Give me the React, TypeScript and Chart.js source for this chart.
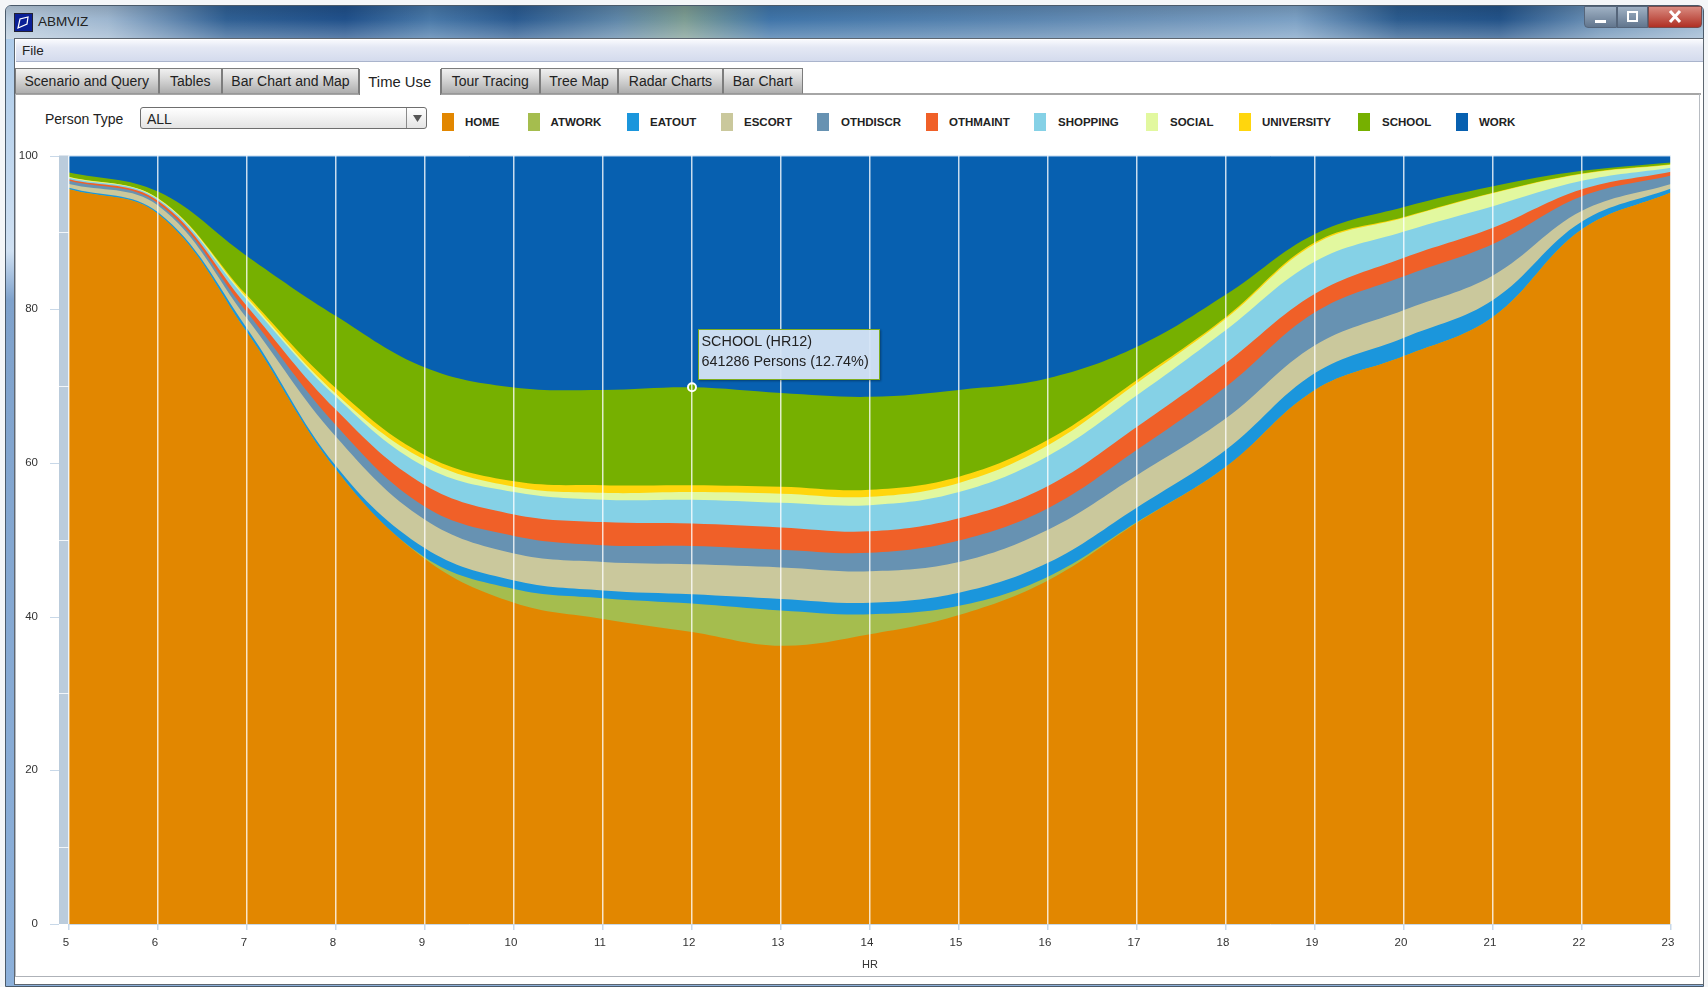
import React, { useEffect, useRef } from "react";
import { Chart, registerables } from "chart.js";

Chart.register(...registerables);

const hours = ["5","6","7","8","9","10","11","12","13","14","15","16","17","18","19","20","21","22","23"];
const HOME = [95.6,92.4,77.0,59.1,47.5,41.8,39.7,38.0,36.2,37.7,40.2,44.7,52.2,59.5,69.5,73.9,79.0,90.4,95.2];
const ATWORK = [0,0,0,0,0.2,1.8,2.7,3.7,4.6,2.6,1.2,0.5,0.1,0,0,0,0,0,0];
const EATOUT = [0.2,0.2,0.5,0.5,1.2,1.1,1.0,1.2,1.5,1.5,1.7,1.8,1.9,2.2,2.2,2.4,2.2,1.0,0.5];
const ESCORT = [0.5,0.9,1.3,3.8,3.7,3.5,3.7,3.9,4.1,4.1,4.0,4.3,4.2,4.1,3.6,3.6,3.2,1.4,0.6];
const OTHDISCR = [0.4,0.3,0.8,1.5,1.7,2.3,2.2,2.4,2.3,2.4,2.8,2.8,3.3,4.1,4.3,4.4,4.1,1.9,1.1];
const OTHMAINT = [0.2,0.3,0.8,2.0,2.8,2.8,3.0,2.9,2.9,2.8,2.9,2.9,3.0,3.1,2.4,2.4,2.1,0.9,0.5];
const SHOPPING = [0.2,0.2,0.8,1.7,2.4,2.9,2.9,3.1,3.2,3.4,3.4,3.9,4.1,4.3,4.2,3.4,2.8,1.1,0.5];
const SOCIAL = [0.1,0.1,0.3,0.4,0.9,0.7,0.9,1.0,1.2,1.1,1.2,1.4,1.6,1.5,2.3,1.8,1.7,0.9,0.4];
const UNIVERSITY = [0.05,0.05,0.3,0.7,0.6,0.7,1.0,0.9,0.9,0.9,0.8,0.7,0.4,0.2,0.2,0.1,0.05,0.05,0.05];
const SCHOOL = [0.55,0.85,5.1,9.4,11.4,12.2,12.4,12.74,12.2,12.1,11.3,8.0,4.3,2.9,1.1,1.3,0.85,0.35,0.25];
const WORK = [2.2,4.7,13.1,20.9,27.6,30.2,30.5,30.16,30.9,31.4,30.5,29.0,24.9,18.1,10.2,6.7,4.0,2.0,0.9];

const seriesNames = ["HOME","ATWORK","EATOUT","ESCORT","OTHDISCR","OTHMAINT","SHOPPING","SOCIAL","UNIVERSITY","SCHOOL","WORK"];
const seriesValues = [HOME,ATWORK,EATOUT,ESCORT,OTHDISCR,OTHMAINT,SHOPPING,SOCIAL,UNIVERSITY,SCHOOL,WORK];
const seriesColors = ["#e28700","#a5bd4e","#1b96dc","#cac89c","#6792b2","#f06028","#85d1e6","#e2f89f","#ffd60d","#76b000","#0760b0"];
const highlightIndex = 7;

const tabNames = ["Scenario and Query","Tables","Bar Chart and Map","Time Use","Tour Tracing","Tree Map","Radar Charts","Bar Chart"];
const tabEdges = [15,158.5,222,359,440.5,540,618,723,802.5];
const legendSwatchX = [442,527.5,626.5,721,817,926,1034,1146,1239,1358,1456];
const legendTextX = [465,550.5,650,744,841,949,1058,1170,1262,1382,1479];
const FONT = '"Liberation Sans", Arial, sans-serif';

const bandPlugin = {
  id: "yBand",
  beforeDatasetsDraw(chart: any) {
    const { ctx, chartArea, scales } = chart;
    ctx.save();
    ctx.fillStyle = "#bbccdc";
    ctx.fillRect(59, chartArea.top, 10, chartArea.bottom - chartArea.top);
    ctx.lineWidth = 1;
    scales.y.ticks.forEach((t: any) => {
      const y = Math.round(scales.y.getPixelForValue(t.value)) + 0.5;
      ctx.beginPath();
      if (t.value % 20 === 0) {
        ctx.strokeStyle = "#c8d8e8";
        ctx.moveTo(50, y);
        ctx.lineTo(59, y);
      } else {
        ctx.strokeStyle = "#f2f6fa";
        ctx.moveTo(59, y);
        ctx.lineTo(69, y);
      }
      ctx.stroke();
    });
    ctx.restore();
  },
  afterDatasetsDraw(chart: any) {
    const { ctx, chartArea } = chart;
    ctx.save();
    ctx.strokeStyle = "#c8d8e8";
    ctx.lineWidth = 1;
    ctx.beginPath();
    ctx.moveTo(chartArea.left, Math.round(chartArea.bottom) + 0.5);
    ctx.lineTo(chartArea.right, Math.round(chartArea.bottom) + 0.5);
    ctx.stroke();
    ctx.strokeStyle = "rgba(120,170,220,0.8)";
    ctx.beginPath();
    ctx.moveTo(chartArea.left, Math.round(chartArea.top) + 0.5);
    ctx.lineTo(chartArea.right, Math.round(chartArea.top) + 0.5);
    ctx.stroke();
    ctx.restore();
  },
};

function Box(p: { l: number; t: number; w: number; h: number; s?: React.CSSProperties; children?: React.ReactNode }) {
  return (
    <div style={{ position: "absolute", left: p.l, top: p.t, width: p.w, height: p.h, boxSizing: "border-box", ...p.s }}>
      {p.children}
    </div>
  );
}

function Label(p: { x: number; cy: number; size: number; bold?: boolean; color?: string; children: React.ReactNode }) {
  return (
    <div style={{ position: "absolute", left: p.x, top: p.cy - 10, height: 20, lineHeight: "20px", fontFamily: FONT, fontSize: p.size, fontWeight: p.bold ? 700 : 400, color: p.color || "#222", whiteSpace: "nowrap" }}>
      {p.children}
    </div>
  );
}

export default function App() {
  const ref = useRef<HTMLCanvasElement | null>(null);
  useEffect(() => {
    document.body.style.margin = "0";
    const chart = new Chart(ref.current as HTMLCanvasElement, {
      type: "line",
      plugins: [bandPlugin],
      data: {
        labels: hours,
        datasets: seriesNames.map((name, i) => ({
          label: name,
          data: seriesValues[i],
          backgroundColor: seriesColors[i],
          borderColor: seriesColors[i],
          borderWidth: 0,
          fill: "origin",
          tension: 0.38,
          pointRadius: (c: any) => (name === "SCHOOL" && c.dataIndex === highlightIndex ? 4 : 0),
          pointBackgroundColor: seriesColors[i],
          pointBorderColor: "#ffffff",
          pointBorderWidth: 2,
        })),
      },
      options: {
        animation: false,
        responsive: false,
        maintainAspectRatio: false,
        layout: { padding: { left: 0, right: 37, top: 15.5, bottom: 15 } },
        plugins: { legend: { display: false }, tooltip: { enabled: false } },
        scales: {
          x: {
            type: "category",
            offset: false,
            afterFit: (s: any) => { s.height = 48; s.paddingLeft = 0; s.paddingRight = 0; },
            grid: { color: "rgba(255,255,255,0.78)", lineWidth: 1.5, z: 1, tickColor: "#c8d8e8", tickLength: 6 },
            border: { display: false },
            ticks: { color: "#333", font: { family: FONT, size: 11.5 }, maxRotation: 0, autoSkip: false, labelOffset: -3, padding: 6 },
            title: { display: true, text: "HR", color: "#333", font: { family: FONT, size: 11 }, padding: { top: 5, bottom: 0 } },
          },
          y: {
            stacked: true,
            min: 0,
            max: 100,
            afterFit: (s: any) => { s.width = 69; s.paddingTop = 0; s.paddingBottom = 0; },
            grid: { display: false, drawTicks: false },
            border: { display: false },
            ticks: {
              stepSize: 10,
              color: "#333",
              font: { family: FONT, size: 11.5 },
              padding: 31,
              callback: (v: any) => (Number(v) % 20 === 0 ? String(v) : ""),
              autoSkip: false,
            },
          },
        },
      } as any,
    } as any);
    return () => chart.destroy();
  }, []);

  const titleBg = "linear-gradient(90deg,#b9cbdc 0%,#9db6cf 6%,#2f5f93 13%,#20508a 20%,#4878a8 25%,#2a5a90 30%,#5e86a8 36%,#7c9c92 40%,#3f74a8 45%,#5a85b0 60%,#6c92b8 68%,#7ba0c4 76%,#2b5b8e 82%,#225288 88%,#6f94b8 94%,#9ab6d0 100%)";

  return (
    <div style={{ position: "absolute", left: 0, top: 0, width: 1708, height: 987, overflow: "hidden", background: "#f4f6f8" }}>
      <Box l={5} t={5} w={1699} h={982} s={{ background: "linear-gradient(180deg,#a8c8e8 0%,#cfe0f2 25%,#7fa2cc 30%,#8cb0da 100%)", borderRadius: "6px 6px 0 0", border: "1px solid #4a5a6a" }} />
      <Box l={6} t={6} w={1697} h={33} s={{ background: titleBg, borderRadius: "5px 5px 0 0" }} />
      <Box l={6} t={6} w={1697} h={33} s={{ background: "linear-gradient(180deg,rgba(0,0,0,.12),rgba(255,255,255,0) 40%,rgba(255,255,255,.28))", borderRadius: "5px 5px 0 0" }} />
      <Box l={14} t={13} w={19} h={19} s={{ background: "#0a1f96", border: "1px solid #223" }}>
        <svg width="17" height="17"><path d="M3 14 L5 5 L13 3 L12 10 Z" fill="none" stroke="#fff" strokeWidth="1.2" /></svg>
      </Box>
      <Label x={38} cy={22} size={13.5}>ABMVIZ</Label>

      <Box l={1584} t={6} w={33} h={22} s={{ background: "linear-gradient(180deg,#9fb1c4,#62768e)", border: "1px solid #55657a", borderRadius: "0 0 0 4px" }}>
        <Box l={10} t={13} w={11} h={3} s={{ background: "#fff" }} />
      </Box>
      <Box l={1617} t={6} w={31} h={22} s={{ background: "linear-gradient(180deg,#9fb1c4,#62768e)", border: "1px solid #55657a" }}>
        <Box l={9} t={4} w={11} h={11} s={{ border: "2.5px solid #fff" }} />
      </Box>
      <Box l={1648} t={6} w={54} h={22} s={{ background: "linear-gradient(180deg,#d98a80,#b03024)", border: "1px solid #7a4a4a", borderRadius: "0 0 4px 0" }}>
        <svg width="52" height="20"><path d="M21 4 L31 15 M31 4 L21 15" stroke="#fff" strokeWidth="3" /></svg>
      </Box>

      <Box l={14} t={38} w={1690} h={947} s={{ background: "#fff", border: "1.5px solid #5d6670" }} />
      <Box l={15.5} t={39.5} w={1687} h={22} s={{ background: "linear-gradient(180deg,#f8f9fd 0%,#e4e8f4 35%,#d4dbed 100%)", borderBottom: "1px solid #aab4cc" }} />
      <Label x={22} cy={51} size={13.5}>File</Label>

      {tabNames.map((n, i) => {
        const active = n === "Time Use";
        return (
          <Box key={n} l={tabEdges[i]} t={active ? 69 : 68} w={tabEdges[i + 1] - tabEdges[i]} h={26} s={{
            background: active ? "#fff" : "linear-gradient(180deg,#f0f0f0 0%,#d8d8d8 40%,#aeaeae 100%)",
            border: "1px solid #7c7c7c",
            borderBottom: active ? "none" : "1px solid #999",
            borderTop: active ? "none" : "1px solid #7c7c7c",
            zIndex: active ? 2 : 1,
            textAlign: "center",
            lineHeight: active ? "26px" : "24px",
            fontFamily: FONT,
            fontSize: active ? 14.8 : 14,
            color: "#222",
            whiteSpace: "nowrap",
          }}>{n}</Box>
        );
      })}
      <Box l={802.5} t={93} w={898} h={2} s={{ background: "#a6a6a6" }} />
      <Box l={15} t={93} w={1685} h={884} s={{ borderTop: "2px solid #a6a6a6", borderRight: "1px solid #b8bcc2", borderBottom: "1.5px solid #aeb2b8", borderLeft: "1px solid #b8bcc2" }} />

      <Label x={45} cy={119} size={14}>Person Type</Label>
      <Box l={140} t={107} w={287} h={22} s={{ background: "linear-gradient(180deg,#ffffff,#e4e4e4)", border: "1px solid #6e6e6e", borderRadius: 3 }}>
        <Box l={265} t={0} w={1} h={20} s={{ background: "#8a8a8a" }} />
        <svg style={{ position: "absolute", left: 272, top: 7 }} width="9" height="7"><path d="M0 0 L9 0 L4.5 7 Z" fill="#555" /></svg>
      </Box>
      <Label x={147} cy={119} size={14}>ALL</Label>

      {seriesNames.map((n, i) => (
        <React.Fragment key={n}>
          <Box l={legendSwatchX[i]} t={113} w={12} h={18} s={{ background: seriesColors[i] }} />
          <Label x={legendTextX[i]} cy={122} size={11.5} bold>{n}</Label>
        </React.Fragment>
      ))}

      <canvas ref={ref} width={1708} height={847} style={{ position: "absolute", left: 0, top: 140, width: 1708, height: 847, display: "block" }} />

      <Box l={698} t={329} w={181.5} h={50.5} s={{ background: "rgba(214,228,244,0.95)", border: "1.5px solid #7fae1e", boxShadow: "1px 1px 2px rgba(0,0,0,.35)" }} />
      <Label x={701.5} cy={341} size={14.4}>SCHOOL (HR12)</Label>
      <Label x={701.5} cy={361} size={14.4}>641286 Persons (12.74%)</Label>
    </div>
  );
}
